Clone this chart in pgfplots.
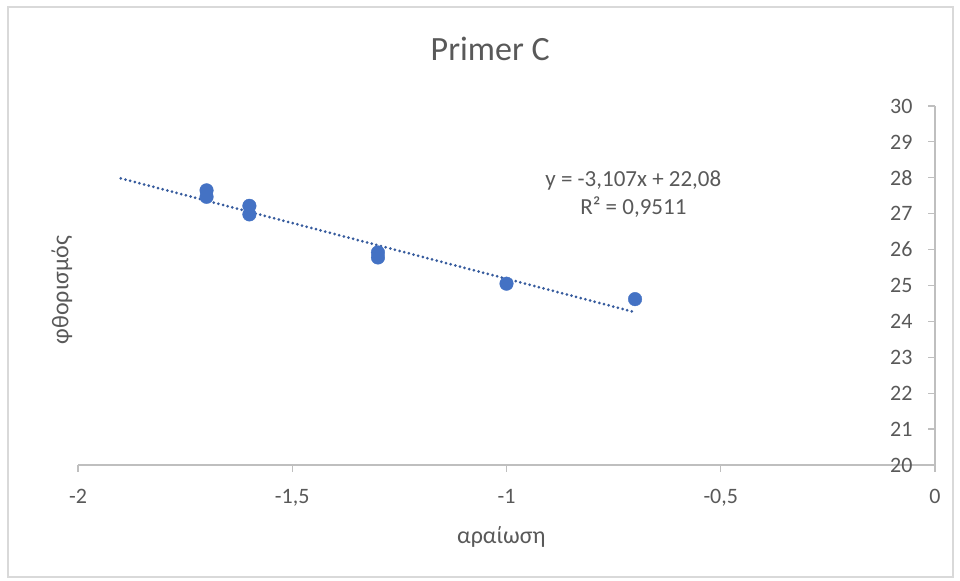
\documentclass[border=0pt]{standalone}
\usepackage{pgfplots}
\pgfplotsset{compat=1.18}
\usepackage{fontspec}
\setmainfont{Carlito}
\definecolor{xlblue}{HTML}{4472C4}
\definecolor{xltext}{HTML}{595959}
\definecolor{xlaxis}{HTML}{BFBFBF}
\definecolor{xlframe}{HTML}{D9D9D9}

\begin{document}
\begin{tikzpicture}[x=1bp,y=1bp]
\useasboundingbox (0,0) rectangle (960,581);
\draw[xlframe, line width=1.5bp] (8,4) rectangle (953,574);
\begin{axis}[
  at={(78bp,116bp)}, anchor=south west,
  scale only axis, width=857bp, height=359bp,
  xmin=-2, xmax=0, ymin=20, ymax=30,
  xtick={-2,-1.5,-1,-0.5,0}, ytick={20,21,...,30},
  axis x line=bottom, axis y line=right,
  axis line style={xlaxis, line width=1.2bp, -},
  tick style={xlaxis, line width=1.2bp},
  major tick length=7bp, tick align=outside,
  y tick style={xshift=-7bp},
  yticklabel style={anchor=east, xshift=-26bp},
  xticklabel style={yshift=-14bp},
  ticklabel style={font=\fontsize{22bp}{26bp}\selectfont, text=xltext},
  /pgf/number format/assume math mode=true,
  /pgf/number format/use comma,
  title={Primer C},
  title style={at={(axis description cs:0.481,1.142)}, anchor=center,
    font=\fontsize{34bp}{40bp}\selectfont, text=xltext},
  xlabel={αραίωση},
  xlabel style={at={(axis description cs:0.494,-0.2006)}, anchor=center,
    font=\fontsize{24bp}{28bp}\selectfont, text=xltext},
  ylabel={φθορισμός},
  ylabel style={at={(axis description cs:-0.0187,0.487)}, anchor=center, rotate=0,
    font=\fontsize{24bp}{28bp}\selectfont, text=xltext},
  clip=false,
]
\addplot[only marks, mark=*, mark size=6.8bp,
  mark options={fill=xlblue, draw=xlblue}]
  coordinates {
    (-1.7,27.65)(-1.7,27.47)
    (-1.6,27.22)(-1.6,26.98)
    (-1.3,25.92)(-1.3,25.78)
    (-1.0,25.05)
    (-0.7,24.62)
  };
\addplot[xlblue!80!black, line width=3.0bp, line cap=round,
  dash pattern=on 0pt off 4.8bp]
  coordinates {(-1.9,27.9833)(-0.7,24.2549)};
\node[align=center, text=xltext, font=\fontsize{23bp}{28bp}\selectfont]
  at (axis description cs:0.648,0.755)
  {y = -3,107x + 22,08\\R² = 0,9511};
\end{axis}
\end{tikzpicture}
\end{document}
